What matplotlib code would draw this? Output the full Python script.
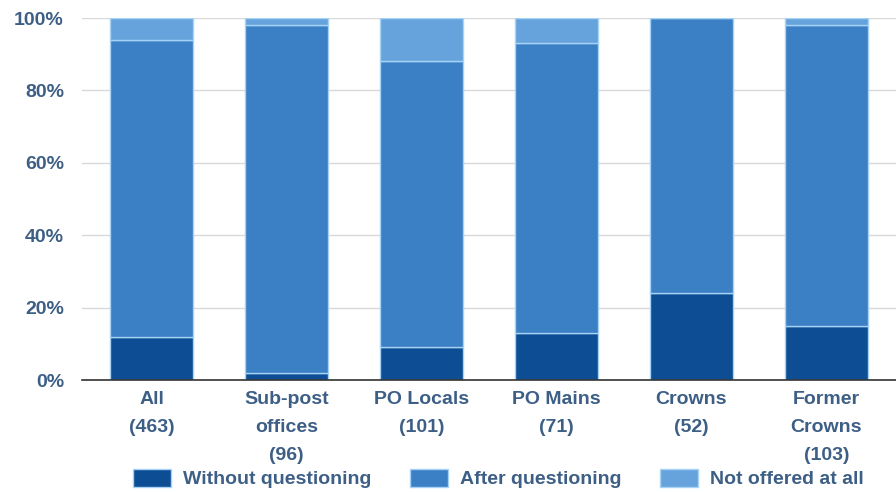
import matplotlib.pyplot as plt
import numpy as np

plt.rcParams['font.family'] = ['Liberation Sans', 'DejaVu Sans']

# Data (percent of each group)
categories = ['All\n(463)', 'Sub-post\noffices\n(96)', 'PO Locals\n(101)',
              'PO Mains\n(71)', 'Crowns\n(52)', 'Former\nCrowns\n(103)']
without_q = [12, 2, 9, 13, 24, 15]
after_q = [82, 96, 79, 80, 76, 83]
not_offered = [6, 2, 12, 7, 0, 2]
series_names = ['Without questioning', 'After questioning', 'Not offered at all']
yticks = [0, 20, 40, 60, 80, 100]

colors = ['#0d4d93', '#3b7fc5', '#66a3dc']
text_color = '#3d5f86'

fig = plt.figure(figsize=(8.96, 4.92), dpi=100)
ax = fig.add_axes([0.0915, 0.2276, 0.9085, 0.7358])

x = np.arange(len(categories))
width = 0.615
bottom = np.zeros(len(categories))
for vals, col, name in zip([without_q, after_q, not_offered], colors, series_names):
    ax.bar(x, vals, width, bottom=bottom, color=col, edgecolor='#a6d3f5',
           linewidth=1.0, label=name, zorder=3)
    bottom += np.array(vals)

ax.set_xlim(-0.515, len(categories) - 1 + 0.515)
ax.set_ylim(0, 100)
ax.set_yticks(yticks)
ax.set_yticklabels([f'{t}%' for t in yticks], fontsize=14, fontweight='bold', color=text_color)
ax.set_xticks(x)
ax.set_xticklabels(categories, fontsize=14, fontweight='bold', color=text_color, linespacing=1.84)
ax.tick_params(axis='both', length=0)
ax.tick_params(axis='y', pad=13)
ax.tick_params(axis='x', pad=8)

ax.grid(axis='y', color='#d9d9d9', linewidth=1, zorder=0)
for s in ['top', 'right', 'left']:
    ax.spines[s].set_visible(False)
ax.spines['bottom'].set_color('#333333')
ax.spines['bottom'].set_linewidth(1.2)
ax.spines['bottom'].set_zorder(4)

fig.legend(loc='lower center', bbox_to_anchor=(0.556, -0.028), ncol=3, frameon=False,
           handlelength=1.95, handleheight=1.03, columnspacing=2.0, handletextpad=0.6,
           prop={'size': 14, 'weight': 'bold'}, labelcolor=text_color)

fig.savefig('out.png', dpi=100)
